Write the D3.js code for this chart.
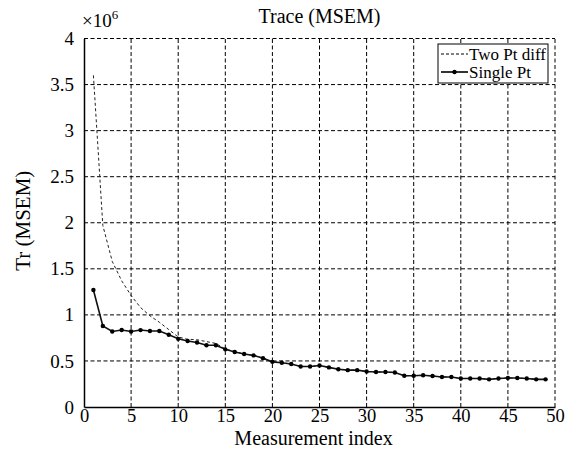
<!DOCTYPE html>
<html>
<head>
<meta charset="utf-8">
<script src="https://cdn.jsdelivr.net/npm/d3@7"></script>
<style>
  body { margin: 0; background: #fff; }
  svg { display: block; }
  svg text { font-family: "Liberation Serif", "DejaVu Serif", serif; fill: #000; }
</style>
</head>
<body>
<svg id="chart" width="567" height="455"></svg>
<script>
// Measurement indices 1..49
const indices = d3.range(1, 50);

// Trace of MSEM (in units of 1e6)
const singlePt = [
  1.27, 0.88, 0.82, 0.836, 0.82, 0.835, 0.825, 0.825, 0.785, 0.74,
  0.717, 0.70, 0.67, 0.67, 0.626, 0.597, 0.575, 0.56, 0.53, 0.49,
  0.48, 0.467, 0.44, 0.44, 0.45, 0.43, 0.41, 0.40, 0.40, 0.385,
  0.38, 0.38, 0.375, 0.34, 0.34, 0.345, 0.336, 0.326, 0.326, 0.31,
  0.31, 0.31, 0.30, 0.31, 0.315, 0.315, 0.31, 0.30, 0.30
];
const twoPtDiff = [
  3.6, 1.97, 1.58, 1.37, 1.21, 1.08, 0.99, 0.92, 0.84, 0.76,
  0.735, 0.73, 0.71, 0.69, 0.63, 0.60, 0.578, 0.56, 0.532, 0.49,
  0.48, 0.467, 0.44, 0.44, 0.45, 0.43, 0.41, 0.40, 0.40, 0.385,
  0.38, 0.38, 0.375, 0.34, 0.34, 0.345, 0.336, 0.326, 0.326, 0.31,
  0.31, 0.31, 0.30, 0.31, 0.315, 0.315, 0.31, 0.30, 0.30
];

const xTicks = [0, 5, 10, 15, 20, 25, 30, 35, 40, 45, 50];
const yTicks = [0, 0.5, 1, 1.5, 2, 2.5, 3, 3.5, 4];
const seriesNames = ["Two Pt diff", "Single Pt"];

const svg = d3.select("#chart");
const plotLeft = 84, plotRight = 555, plotTop = 38.5, plotBottom = 407;

const x = d3.scaleLinear().domain([0, 50]).range([plotLeft, plotRight]);
const y = d3.scaleLinear().domain([0, 4]).range([plotBottom, plotTop]);

// grid
const grid = svg.append("g").attr("stroke", "#000").attr("stroke-width", 1)
  .attr("stroke-dasharray", "4,2.5");
grid.selectAll(".gx").data(xTicks.filter(d => d > 0)).join("line")
  .attr("x1", d => x(d)).attr("x2", d => x(d))
  .attr("y1", plotBottom).attr("y2", plotTop);
grid.selectAll(".gy").data(yTicks.filter(d => d > 0)).join("line")
  .attr("y1", d => y(d)).attr("y2", d => y(d))
  .attr("x1", plotLeft).attr("x2", plotRight);

// axes
const xAxis = d3.axisBottom(x).tickValues(xTicks).tickSize(0).tickPadding(2)
  .tickFormat(d3.format("d"));
const yAxis = d3.axisLeft(y).tickValues(yTicks).tickSize(0).tickPadding(10)
  .tickFormat(d => d3.format("")(d));

const gx = svg.append("g").attr("transform", `translate(0,${plotBottom})`).call(xAxis);
const gy = svg.append("g").attr("transform", `translate(${plotLeft},0)`).call(yAxis);
[gx, gy].forEach(g => {
  g.attr("font-family", null);
  g.select(".domain").attr("stroke", "#000").attr("stroke-width", 1.5);
  g.selectAll("text").attr("font-size", 19);
});
gx.selectAll("text").attr("font-size", 18.5);

// series
const line = d3.line().x((d, i) => x(indices[i])).y(d => y(d));

svg.append("path").datum(twoPtDiff)
  .attr("fill", "none").attr("stroke", "#222").attr("stroke-width", 1)
  .attr("stroke-dasharray", "3,2.5").attr("d", line);

svg.append("path").datum(singlePt)
  .attr("fill", "none").attr("stroke", "#111").attr("stroke-width", 1.6)
  .attr("d", line);
svg.append("g").selectAll("circle").data(singlePt).join("circle")
  .attr("cx", (d, i) => x(indices[i])).attr("cy", d => y(d))
  .attr("r", 2.2).attr("fill", "#000");

// title and labels
svg.append("text").attr("x", (plotLeft + plotRight) / 2).attr("y", 23)
  .attr("text-anchor", "middle").attr("font-size", 20).text("Trace (MSEM)");
svg.append("text").attr("x", (plotLeft + plotRight) / 2 - 6).attr("y", 445)
  .attr("text-anchor", "middle").attr("font-size", 20).text("Measurement index");
svg.append("text").attr("transform", `translate(30,${(plotTop + plotBottom) / 2 - 2}) rotate(-90)`)
  .attr("text-anchor", "middle").attr("font-size", 21).text("Tr (MSEM)");

const mult = svg.append("text").attr("x", 82).attr("y", 27).attr("font-size", 19);
mult.append("tspan").text("×10");
mult.append("tspan").attr("dy", -8).attr("font-size", 13).text("6");

// legend
const lg = svg.append("g");
lg.append("rect").attr("x", 438).attr("y", 44).attr("width", 110).attr("height", 39)
  .attr("fill", "#fff").attr("stroke", "#000").attr("stroke-width", 1);
const rows = [54, 72];
lg.append("line").attr("x1", 441).attr("x2", 468).attr("y1", rows[0]).attr("y2", rows[0])
  .attr("stroke", "#000").attr("stroke-width", 1).attr("stroke-dasharray", "3,2");
lg.append("line").attr("x1", 441).attr("x2", 468).attr("y1", rows[1]).attr("y2", rows[1])
  .attr("stroke", "#000").attr("stroke-width", 1.6);
lg.append("circle").attr("cx", 454.5).attr("cy", rows[1]).attr("r", 2.2).attr("fill", "#000");
lg.selectAll("text").data(seriesNames).join("text")
  .attr("x", 469).attr("y", (d, i) => rows[i] + 5.5)
  .attr("font-size", 17)
  .text(d => d);
</script>
</body>
</html>
